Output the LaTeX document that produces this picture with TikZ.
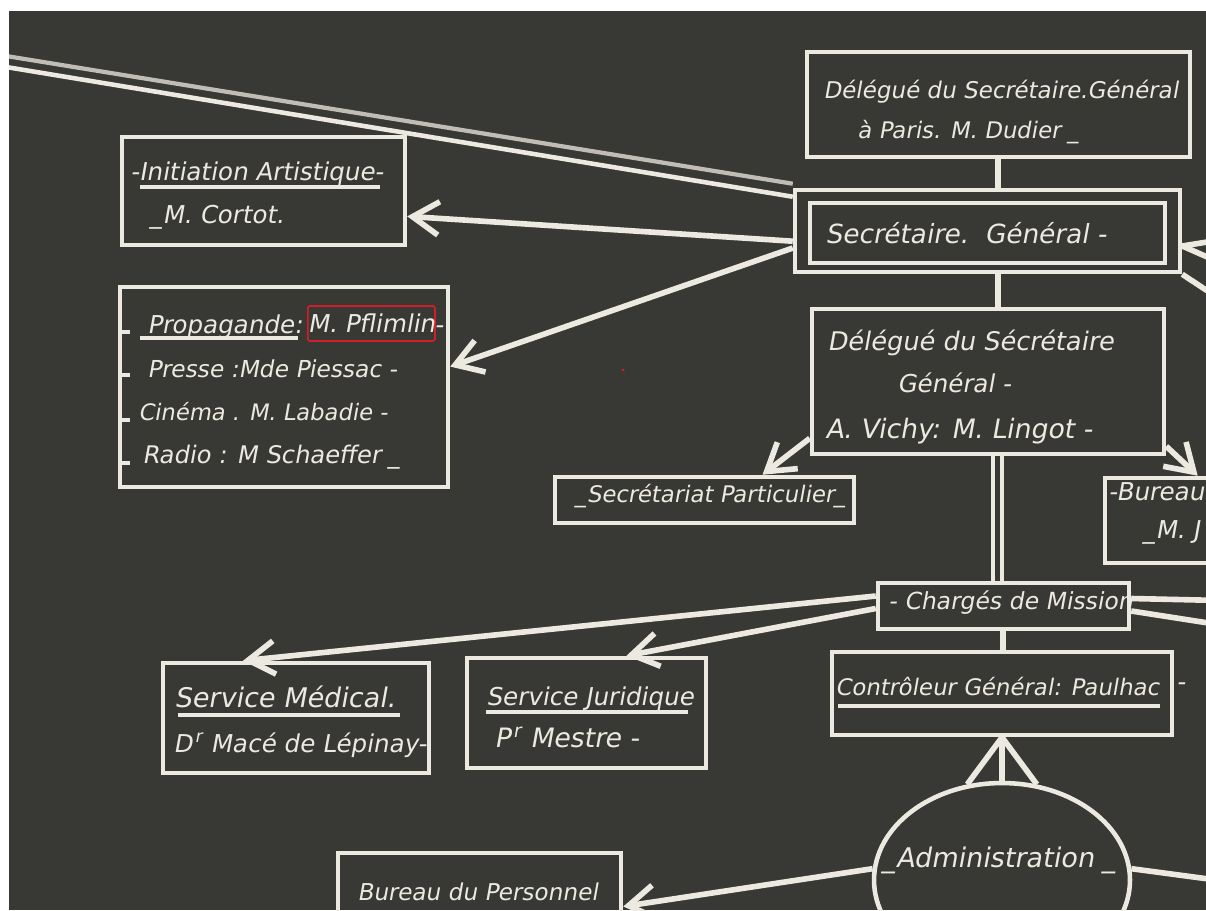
\documentclass[tikz,border=0pt]{standalone}
\usepackage{fontspec}
\newfontfamily\chalkfont{DejaVu Sans}[FakeSlant=0.18]
\usetikzlibrary{arrows.meta,shapes.geometric}

\definecolor{board}{RGB}{56,56,53}
\definecolor{chalk}{RGB}{236,233,224}
\definecolor{marker}{RGB}{210,30,40}

\tikzset{
  box/.style={draw=chalk, line width=2.6pt, inner sep=0pt},
  txt/.style={anchor=base west, inner sep=0pt, text=chalk, font=\chalkfont\fontsize{14}{16}\selectfont},
  fs/.style={font=\chalkfont\fontsize{#1}{16}\selectfont},
  link/.style={draw=chalk, line width=3.2pt},
  tip/.style={-{Straight Barb[length=15pt,width=19pt]}},
}

\begin{document}
\begin{tikzpicture}[x=0.02cm, y=-0.02cm]
	\fill [white] (0,0) rectangle (1206,910);
	\fill [board] (9,11) rectangle (1206,910);
	\clip (9,11) rectangle (1206,910);

	% boxes
	\node [box, minimum width=7.66cm, minimum height=2.1cm] (paris) at (998.5,104.5) {};
	\node [box, minimum width=7.7cm, minimum height=1.64cm] (secgen) at (987.5,231) {};
	\node [box, minimum width=7.1cm, minimum height=1.2cm] (secgenin) at (987.5,233) {};
	\node [box, minimum width=5.66cm, minimum height=2.16cm] (initiation) at (263.5,191) {};
	\node [box, minimum width=6.56cm, minimum height=4cm] (propag) at (284,387) {};
	\node [box, minimum width=7.04cm, minimum height=2.9cm] (vichy) at (988,381.5) {};
	\node [box, minimum width=5.98cm, minimum height=0.92cm] (secpart) at (704.5,500) {};
	\node [box, minimum width=3.1cm, minimum height=1.7cm] (bureau) at (1182.5,520.5) {};
	\node [box, minimum width=5.02cm, minimum height=0.92cm] (charges) at (1003.5,606) {};
	\node [box, minimum width=6.8cm, minimum height=1.66cm] (controleur) at (1002,693.5) {};
	\node [box, minimum width=5.32cm, minimum height=2.2cm] (medical) at (296,718) {};
	\node [box, minimum width=4.78cm, minimum height=2.2cm] (juridique) at (586.5,713) {};
	\node [box, minimum width=5.66cm, minimum height=1.74cm] (personnel) at (479.5,896.5) {};
	\node [box, ellipse, minimum width=5.12cm, minimum height=3.88cm] (admin) at (1002,880) {};

	% texts
	\node [txt, fs=13.1] (paris1) at (823,98) {Délégué du Secrétaire.Général};
	\node [txt, fs=13] (paris2) at (857,138) {à Paris. M. Dudier \_};
	\node [txt, fs=15] (secgentxt) at (825,243) {Secrétaire.\ \ Général -};
	\node [txt] (init1) at (130,180) {-Initiation Artistique-};
	\node [txt] (init2) at (150,223) {\_M. Cortot.};
	\node [txt] (prop1) at (147,333) {Propagande:};
	\node [draw=marker, line width=0.9pt, rounded corners=1pt, inner sep=0pt, minimum width=2.44cm, minimum height=0.7cm, anchor=west, text=chalk, fs=14] (pflimlin) at (307,323.5) {M. Pflimlin};
	\node [txt] (prop1b) at (434,333) {-};
	\node [txt, fs=13.3] (prop2) at (147,377) {Presse :Mde Piessac -};
	\node [txt, fs=12.9] (prop3) at (138,420) {Cinéma . M. Labadie -};
	\node [txt, fs=13.8] (prop4) at (142,463) {Radio : M Schaeffer \_};
	\node [txt, fs=14.6] (vichy1) at (827,350) {Délégué du Sécrétaire};
	\node [txt] (vichy2) at (897,392) {Général -};
	\node [txt, fs=15.2] (vichy3) at (825,438) {A. Vichy: M. Lingot -};
	\node [txt, fs=13] (secparttxt) at (575,502) {\_Secrétariat Particulier\_};
	\node [txt] (bureau1) at (1108,500) {-Bureau};
	\node [txt] (bureau2) at (1143,538) {\_M. J};
	\node [txt, fs=13.4] (chargestxt) at (888,609) {- Chargés de Mission};
	\node [txt, fs=13] (controleurtxt) at (835,695) {Contrôleur Général: Paulhac};
	\node [txt] (controleurdash) at (1176,690) {-};
	\node [txt, fs=15.4] (medical1) at (174,707) {Service Médical.};
	\node [txt] (medical2) at (173,752) {D\kern1.5pt\textsuperscript{r} Macé de Lépinay-};
	\node [txt] (jurid1) at (486,705) {Service Juridique};
	\node [txt, fs=15.2] (jurid2) at (494,747) {P\kern1.5pt\textsuperscript{r} Mestre -};
	\node [txt, fs=15.4] (admintxt) at (882,867) {\_Administration \_};
	\node [txt, fs=13.2] (personneltxt) at (357,900) {Bureau du Personnel};

	% underlines and ticks
	\draw [chalk, line width=2pt] (140,187) -- (380,187);
	\draw [chalk, line width=2pt] (140,338) -- (298,338);
	\draw [chalk, line width=2pt] (178,715) -- (400,715);
	\draw [chalk, line width=2pt] (486,712) -- (688,712);
	\draw [chalk, line width=2pt] (838,706) -- (1160,706);
	\foreach \y in {332,375,420,463}
		\draw [chalk, line width=2pt] (118,\y) -- (130,\y);
	\fill [marker] (623,370) circle (1.5);

	% connectors
	\coordinate (spine) at (998,0);
	\coordinate (farup) at (0,55);
	\coordinate (farlow) at (0,66);
	\draw [link, draw=chalk!75!board, line width=2.4pt] (farup) -- ([yshift=0.08cm]secgen.north west);
	\draw [link, line width=2.6pt] (farlow) -- ([yshift=-0.18cm]secgen.north west);
	\draw [link] (spine |- paris.south) -- (spine |- secgen.north);
	\draw [link, tip] (secgen.183) -- (initiation.-10);
	\draw [link, tip] (secgen.185) -- (propag.7);
	\draw [link] (spine |- secgen.south) -- (spine |- vichy.north);
	\draw [link, tip] ([yshift=0.36cm]vichy.south west) -- ([xshift=1.16cm]secpart.north);
	\draw [link, tip] ([yshift=0.2cm]vichy.south east) -- ([xshift=1.9cm]bureau.north west);
	\draw [link, line width=2.4pt] ([xshift=-0.1cm]spine |- vichy.south) -- ([xshift=-0.1cm]spine |- charges.north);
	\draw [link, line width=2.4pt] ([xshift=0.08cm]spine |- vichy.south) -- ([xshift=0.08cm]spine |- charges.north);
	\draw [link] ([xshift=0.1cm]spine |- charges.south) -- ([xshift=0.1cm]spine |- controleur.north);
	\draw [link, tip] ([yshift=0.2cm]charges.west) -- ([xshift=-1.06cm]medical.north);
	\draw [link, tip] ([yshift=-0.05cm]charges.west) -- ([xshift=0.8cm]juridique.north);
	\draw [link] ([yshift=-0.3cm]secgen.east) -- ++(50,-8);
	\draw [link] ([yshift=-0.3cm]secgen.east) -- ++(50,22);
	\draw [link] (secgen.south east) -- ++(50,33);
	\draw [link] ([yshift=0.15cm]charges.east) -- ++(90,2);
	\draw [link] ([yshift=-0.1cm]charges.east) -- ++(90,14);
	\draw [link] (controleur.south) -- (admin.north);
	\draw [link] (controleur.south) -- (admin.110);
	\draw [link] (controleur.south) -- (admin.70);
	\draw [link, tip] (admin.175) -- ([yshift=-0.2cm]personnel.east);
	\draw [link] (admin.5) -- ++(90,12);
\end{tikzpicture}
\end{document}
